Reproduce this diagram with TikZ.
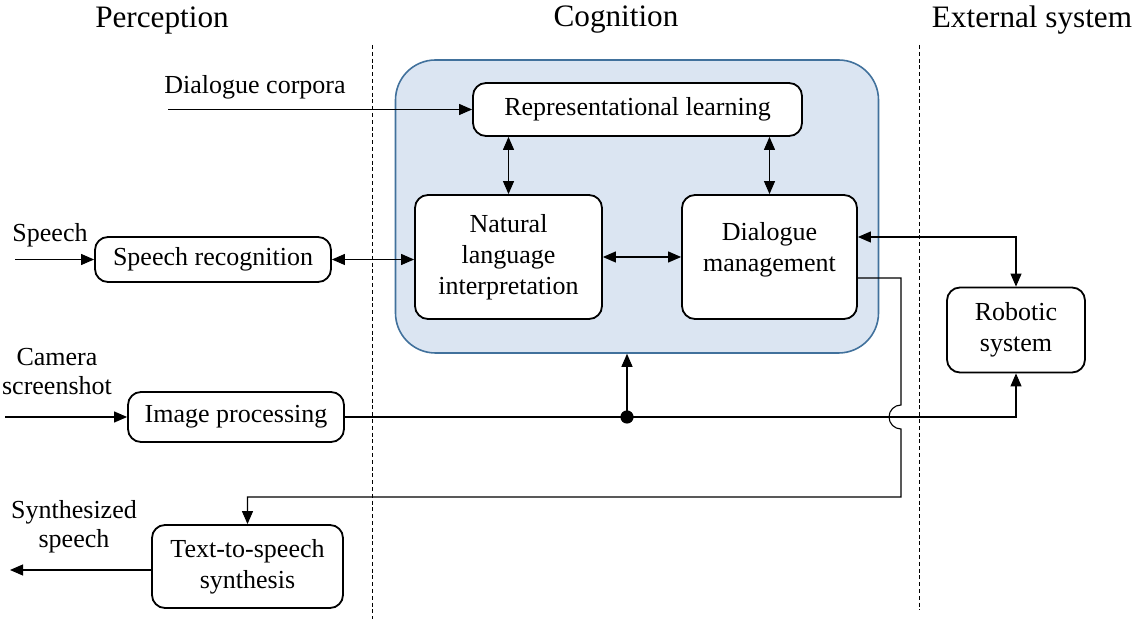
\documentclass[tikz,border=0pt]{standalone}
\usepackage{fontspec}
\setmainfont{Liberation Serif}
\usepackage{xcolor}
\usepackage{tikz}
\usetikzlibrary{arrows.meta,positioning}

\definecolor{cogfill}{RGB}{219,229,242}
\definecolor{cogline}{RGB}{65,113,156}

\tikzset{
  blockbox/.style={draw, line width=0.9pt, rounded corners=6.5pt, fill=white,
    align=center, inner sep=0pt, font=\fontsize{13}{15.5}\selectfont},
  plainlabel/.style={align=center, font=\fontsize{13}{14.5}\selectfont},
  headlabel/.style={font=\fontsize{15.6}{18}\selectfont},
  conn/.style={line width=0.55pt},
  sepline/.style={line width=0.5pt, dash pattern=on 2pt off 1.4pt}
}

\begin{document}
\begin{tikzpicture}[x=0.5pt, y=-0.5pt, >={Triangle[length=6.5pt,width=5.5pt]}]
  \useasboundingbox (0,0) rectangle (1141,619);
  % --- Column headings and separators ---
  \node[headlabel] (hperc) at (162,20) {Perception};
  \node[headlabel] (hcog) at (616,20) {Cognition};
  \node[headlabel] (hext) at (1032,20) {External system};
  \draw[sepline] (372,45) -- (372,619);
  \draw[sepline] (919,45) -- (919,610);
  % --- Cognition block ---
  \node[draw=cogline, fill=cogfill, line width=0.8pt, rounded corners=20pt,
        minimum width=241.5pt, minimum height=146.5pt, inner sep=0pt] (cog) at (637,206.5) {};
  \node[blockbox, minimum width=164.5pt, minimum height=26.5pt] (rl) at (637.5,109.5) {Representational learning};
  \node[blockbox, minimum width=93.5pt, minimum height=62pt] (nli) at (508.5,257) {Natural\\language\\interpretation};
  \node[blockbox, minimum width=87.5pt, minimum height=62pt] (dm) at (769.5,257) {Dialogue\\management\\[-5.5pt]};
  % --- Perception blocks ---
  \node[blockbox, minimum width=118pt, minimum height=22.5pt] (sr) at (213,259.5) {Speech recognition};
  \node[blockbox, minimum width=108pt, minimum height=25pt] (ip) at (236,417) {Image processing};
  \node[blockbox, minimum width=95.5pt, minimum height=41.5pt] (tts) at (247.5,566.5) {Text-to-speech\\synthesis};
  % --- External block ---
  \node[blockbox, minimum width=69pt, minimum height=42.5pt] (robot) at (1016,330) {Robotic\\system};
  % --- Inputs and outputs ---
  \node[plainlabel] (lcorp) at (255,87) {Dialogue corpora};
  \node[plainlabel] (lspeech) at (50,235) {Speech};
  \node[plainlabel] (lcam) at (57,372) {Camera\\screenshot};
  \node[plainlabel] (lsynth) at (74,527) {Synthesized\\speech};
  \coordinate (corp) at (168,109.5);
  \coordinate (speech) at (15,259.5);
  \coordinate (cam) at (5,417);
  \coordinate (synth) at (10,570);
  \draw[conn, ->] (corp) -- (rl.west);
  \draw[conn, ->] (speech) -- (sr.west);
  \draw[conn, ->] (cam) -- (ip.west);
  \draw[conn, ->] (tts.west |- synth) -- (synth);
  % --- Internal links ---
  \draw[conn, <->] (sr.east) -- (nli.west |- sr.east);
  \draw[conn, <->] (rl.south -| nli.north) -- (nli.north);
  \draw[conn, <->] (rl.south -| dm.north) -- (dm.north);
  \draw[conn, <->] (nli.east) -- (dm.west);
  % --- Links to robot and speech output ---
  \coordinate (dmin) at ([yshift=10pt]dm.east);
  \coordinate (dmout) at ([yshift=-10.5pt]dm.east);
  \coordinate (jmp) at (901,405);
  \coordinate (turn) at (901,497);
  \draw[conn, <->] (dmin) -| (robot.north);
  \draw[conn, ->] (dmout) -| (jmp) arc[start angle=90, end angle=270, radius=6pt] -- (turn) -| (tts.north);
  \draw[conn, ->] (ip.east) -| (robot.south);
  \coordinate (dot) at (627,417);
  \fill (dot) circle (3.3pt);
  \draw[conn, ->] (dot) -- (dot |- cog.south);
\end{tikzpicture}
\end{document}
